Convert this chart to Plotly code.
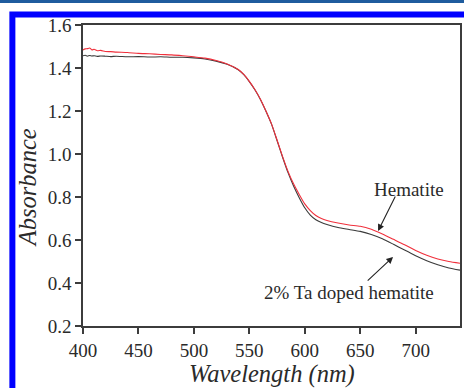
import plotly.graph_objects as go

# ---- data ----
wavelength = [400, 402, 404, 406, 408, 410, 413, 416, 420, 425, 430, 440, 450, 460, 470, 480,
              490, 500, 510, 520, 530, 540, 545, 550, 555, 560, 565, 570, 575, 580, 585,
              590, 595, 600, 605, 610, 615, 620, 630, 640, 650, 660, 670, 680, 690, 700,
              710, 720, 730, 740]
hematite = [1.484, 1.489, 1.490, 1.493, 1.484, 1.487, 1.480, 1.482, 1.477, 1.476, 1.474, 1.472, 1.468,
            1.466, 1.463, 1.461, 1.457, 1.452, 1.446, 1.435, 1.419, 1.393, 1.370, 1.338, 1.300,
            1.255, 1.200, 1.140, 1.065, 0.988, 0.918, 0.860, 0.812, 0.768, 0.737, 0.714, 0.700,
            0.691, 0.679, 0.670, 0.664, 0.650, 0.628, 0.603, 0.578, 0.551, 0.529, 0.512, 0.500,
            0.492]
ta_doped = [1.457, 1.459, 1.455, 1.458, 1.456, 1.457, 1.454, 1.456, 1.455, 1.453, 1.455, 1.452, 1.453,
            1.451, 1.452, 1.450, 1.450, 1.447, 1.442, 1.432, 1.417, 1.392, 1.369, 1.337, 1.299,
            1.254, 1.199, 1.139, 1.063, 0.985, 0.912, 0.850, 0.797, 0.750, 0.716, 0.694, 0.681,
            0.672, 0.658, 0.649, 0.640, 0.626, 0.606, 0.580, 0.553, 0.527, 0.504, 0.485, 0.470,
            0.460]
x_ticks = [400, 450, 500, 550, 600, 650, 700]
y_ticks = [0.2, 0.4, 0.6, 0.8, 1.0, 1.2, 1.4, 1.6]

FONT = "Liberation Serif"

fig = go.Figure()
fig.add_trace(go.Scatter(x=wavelength, y=ta_doped, mode="lines",
                         line=dict(color="#3a3a3a", width=1.1, shape="spline", smoothing=0.6),
                         name="2% Ta doped hematite", showlegend=False))
fig.add_trace(go.Scatter(x=wavelength, y=hematite, mode="lines",
                         line=dict(color="#f0303c", width=1.1, shape="spline", smoothing=0.6),
                         name="Hematite", showlegend=False))

L, R, T, B = 83, 2, 25, 62
W, H = 464, 388
pw, ph = W - L - R, H - T - B


def px(xp):
    return (xp - L) / pw


def py(yp):
    return (H - B - yp) / ph


axis_common = dict(showline=True, mirror=True, linecolor="#3c3c3c", linewidth=1.5,
                   ticks="outside", ticklen=6, tickwidth=1.5, tickcolor="#3c3c3c",
                   showgrid=False, zeroline=False,
                   tickfont=dict(family=FONT, size=19, color="#2a2a2a"))

fig.update_layout(
    width=W, height=H,
    margin=dict(l=L, r=R, t=T, b=B),
    paper_bgcolor="white", plot_bgcolor="white",
    xaxis=dict(range=[400, 740], tickvals=x_ticks, **axis_common),
    yaxis=dict(range=[0.2, 1.6], tickvals=y_ticks, tickformat=".1f", **axis_common),
    annotations=[
        dict(text="<i>Wavelength (nm)</i>", xref="paper", yref="paper",
             x=px(272.5), y=py(374), xanchor="center", yanchor="middle",
             showarrow=False, font=dict(family=FONT, size=24.5, color="#2a2a2a")),
        dict(text="<i>Absorbance</i>", xref="paper", yref="paper", textangle=-90,
             x=px(27), y=py(188), xanchor="center", yanchor="middle",
             showarrow=False, font=dict(family=FONT, size=24.5, color="#2a2a2a")),
        dict(text="Hematite", xref="x", yref="y", x=693.9, y=0.837,
             xanchor="center", yanchor="middle", showarrow=False,
             font=dict(family=FONT, size=19, color="#2a2a2a")),
        dict(text="2% Ta doped hematite", xref="x", yref="y", x=640.1, y=0.358,
             xanchor="center", yanchor="middle", showarrow=False,
             font=dict(family=FONT, size=19, color="#2a2a2a")),
        dict(text="", xref="x", yref="y", x=666.1, y=0.642, axref="x", ayref="y",
             ax=682.3, ay=0.809, showarrow=True, arrowhead=2, arrowsize=1.2,
             arrowwidth=1.1, arrowcolor="#222222"),
        dict(text="", xref="x", yref="y", x=679.6, y=0.521, axref="x", ayref="y",
             ax=655.4, ay=0.405, showarrow=True, arrowhead=2, arrowsize=1.2,
             arrowwidth=1.1, arrowcolor="#222222"),
    ],
    shapes=[
        dict(type="rect", xref="paper", yref="paper", x0=px(12), x1=px(480),
             y0=py(420), y1=py(14.5), line=dict(color="#0000ff", width=6),
             fillcolor="rgba(0,0,0,0)", layer="above"),
        dict(type="line", xref="paper", yref="paper", x0=px(-10), x1=px(480),
             y0=py(1.5), y1=py(1.5), line=dict(color="#1f5c9e", width=3)),
    ],
)

fig.write_html("out.html", config={"displayModeBar": False},
               post_script="document.body.style.margin='0';document.body.style.overflow='hidden';")
